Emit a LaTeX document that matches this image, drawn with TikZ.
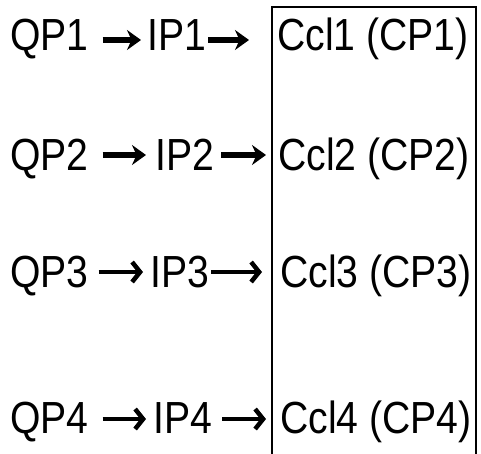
\documentclass[tikz,border=0pt]{standalone}
\usepackage{fontspec}
\setmainfont{Liberation Sans}
\newfontfamily\narrowfont[FakeStretch=0.87]{Liberation Sans}
\usetikzlibrary{arrows.meta}
\newcommand{\picwidth}{481}
\newcommand{\picheight}{453}
\definecolor{inkcolor}{HTML}{000000}
\tikzset{
  label text/.style={anchor=base west, inner sep=0pt, font=\narrowfont\fontsize{45}{52}\selectfont, text=inkcolor},
  heavy arrow/.style={draw=inkcolor, line width=5.5pt, -{Stealth[length=14pt, width=20pt]}},
  barb arrow/.style={draw=inkcolor, line width=4.5pt, -{Straight Barb[length=8pt, width=20pt]}}
}
\begin{document}
\begin{tikzpicture}[x=1pt, y=-1pt]
  % Page background
  \fill[white] (0,0) rectangle (\picwidth, \picheight);
  \useasboundingbox (0,0) rectangle (\picwidth, \picheight);

  % Box round the cell column
  \draw[inkcolor, line width=1.5pt] (272, 460) -- (272, 7) -- (476, 7) -- (476, 460);

  % Texts: index / baseline / IP x / Ccl x
  \foreach \i/\y/\xi/\xc in {1/50/147/277, 2/170/155/278, 3/287/150/280, 4/433/153/280} {
    \node[label text] (qp\i) at (10, \y) {QP\i};
    \node[label text] (ip\i) at (\xi, \y) {IP\i};
    \node[label text] (cc\i) at (\xc, \y) {Ccl\i{} (CP\i)};
  }

  % Arrows, heavy in the first two rows
  \draw[heavy arrow, shorten <=14pt, shorten >=6pt] ([yshift=10pt]qp1.base east) -- ([yshift=10pt]ip1.base west);
  \draw[heavy arrow, shorten <=2pt, shorten >=28pt] ([yshift=10pt]ip1.base east) -- ([yshift=10pt]cc1.base west);
  \draw[heavy arrow, shorten <=14pt, shorten >=9pt] ([yshift=15pt]qp2.base east) -- ([yshift=15pt]ip2.base west);
  \draw[heavy arrow, shorten <=7pt, shorten >=12pt] ([yshift=15pt]ip2.base east) -- ([yshift=15pt]cc2.base west);
  \draw[barb arrow, shorten <=10pt, shorten >=7pt] ([yshift=15pt]qp3.base east) -- ([yshift=15pt]ip3.base west);
  \draw[barb arrow, shorten <=2pt, shorten >=18pt] ([yshift=15pt]ip3.base east) -- ([yshift=15pt]cc3.base west);
  \draw[barb arrow, shorten <=14pt, shorten >=7pt] ([yshift=14pt]qp4.base east) -- ([yshift=14pt]ip4.base west);
  \draw[barb arrow, shorten <=10pt, shorten >=14pt] ([yshift=14pt]ip4.base east) -- ([yshift=14pt]cc4.base west);
\end{tikzpicture}
\end{document}
